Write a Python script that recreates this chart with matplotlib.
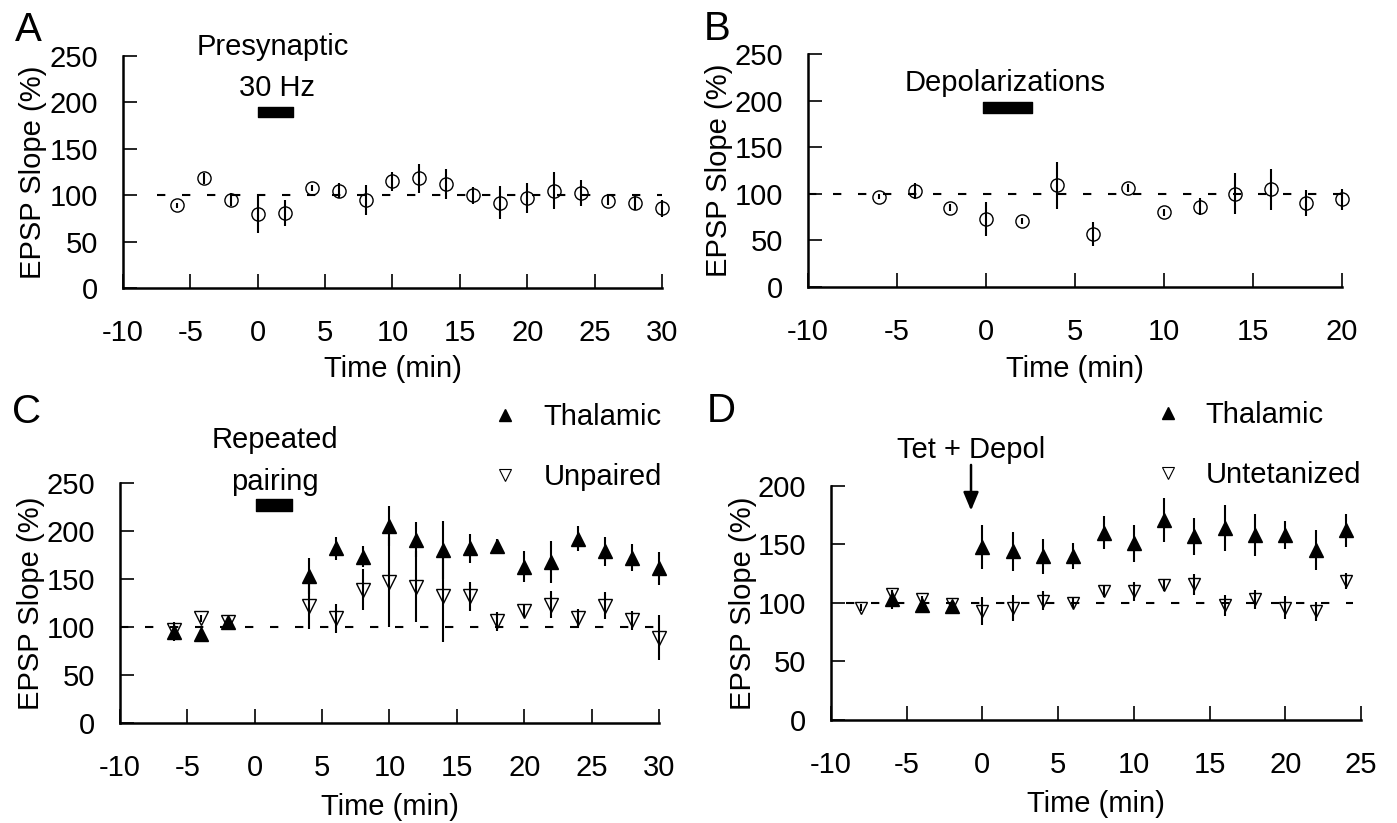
import matplotlib
matplotlib.use("Agg")
import matplotlib.pyplot as plt
from matplotlib.lines import Line2D

plt.rcParams["font.family"] = ["Liberation Sans", "DejaVu Sans"]
plt.rcParams["axes.unicode_minus"] = False

# ---- panel A: presynaptic 30 Hz ----
a_time = [-6, -4, -2, 0, 2, 4, 6, 8, 10, 12, 14, 16, 18, 20, 22, 24, 26, 28, 30]
a_mean = [89, 118, 95, 80, 81, 108, 105, 95, 115, 118, 112, 100, 92, 97, 105, 102, 94, 92, 86]
a_sem = [3, 6, 7, 21, 14, 3, 8, 16, 10, 16, 16, 9, 18, 16, 20, 14, 5, 8, 9]

# ---- panel B: depolarizations ----
b_time = [-6, -4, -2, 0, 2, 4, 6, 8, 10, 12, 14, 16, 18, 20]
b_mean = [97, 103, 85, 73, 71, 109, 57, 106, 80, 86, 100, 105, 90, 94]
b_sem = [3, 9, 4, 18, 3, 25, 13, 4, 4, 9, 22, 22, 14, 11]

# ---- panel C: repeated pairing ----
c_time = [-6, -4, -2, 4, 6, 8, 10, 12, 14, 16, 18, 20, 22, 24, 26, 28, 30]
c_thal = [95, 93, 105, 153, 182, 173, 205, 191, 180, 182, 184, 163, 168, 192, 179, 172, 161]
c_thal_sem = [10, 5, 5, 19, 12, 11, 21, 18, 30, 15, 8, 16, 22, 13, 15, 14, 17]
c_unp = [97, 109, 105, 122, 109, 139, 147, 142, 132, 132, 106, 117, 123, 109, 122, 107, 89]
c_unp_sem = [4, 4, 4, 24, 15, 21, 47, 37, 48, 15, 10, 7, 14, 10, 14, 10, 23]

# ---- panel D: tetanus + depolarization ----
d_time_thal = [-6, -4, -2, 0, 2, 4, 6, 8, 10, 12, 14, 16, 18, 20, 22, 24]
d_thal = [103, 98, 97, 148, 144, 140, 140, 160, 151, 171, 157, 164, 158, 158, 145, 162]
d_thal_sem = [8, 3, 5, 19, 17, 15, 11, 14, 16, 19, 16, 20, 18, 12, 17, 14]
d_time_unt = [-8, -6, -4, -2, 0, 2, 4, 6, 8, 10, 12, 14, 16, 18, 20, 22, 24]
d_unt = [96, 108, 103, 99, 93, 96, 102, 100, 110, 110, 115, 116, 98, 103, 96, 93, 119]
d_unt_sem = [3, 3, 3, 2, 12, 11, 8, 4, 5, 8, 5, 9, 9, 8, 10, 8, 7]

FS = 21


def style_axis(ax, xmax, ymax):
    ax.set_xlim(-10, xmax)
    ax.set_ylim(0, ymax)
    ax.set_xticks(range(-10, xmax + 1, 5))
    ax.set_yticks(range(0, ymax + 1, 50))
    for s in ("top", "right"):
        ax.spines[s].set_visible(False)
    for s in ("left", "bottom"):
        ax.spines[s].set_linewidth(1.8)
    ax.tick_params(direction="in", length=10, width=1.2, labelsize=FS)
    ax.tick_params(axis="x", pad=22)
    ax.tick_params(axis="y", pad=18)
    ax.set_xlabel("Time (min)", fontsize=FS)
    ax.set_ylabel("EPSP Slope (%)", fontsize=FS)
    ax.xaxis.set_label_coords(0.5, -0.29)
    ax.yaxis.set_label_coords(-0.14, 0.5)


def baseline(ax, x0, x1):
    ax.plot([x0, x1], [100, 100], color="k", lw=1.5, ls=(0, (4, 8)), zorder=1)


def points(ax, t, m, e, marker, filled, ms):
    cont = ax.errorbar(t, m, yerr=e, fmt=marker, ms=ms,
                       mfc="k" if filled else "none", mec="k",
                       mew=1.0, ecolor="k", elinewidth=1.5, capsize=0, zorder=3)
    for art in cont.get_children():
        art.set_clip_on(False)


def key(ax, labels, anchor):
    handles = [
        Line2D([], [], marker="^", color="k", ls="none", ms=8),
        Line2D([], [], marker="v", mfc="none", mec="k", mew=0.8, ls="none", ms=8),
    ]
    ax.legend(handles, labels, loc="lower right", bbox_to_anchor=anchor,
              frameon=False, fontsize=FS, handlelength=1.0, handletextpad=0.8,
              labelspacing=1.1, borderpad=0, borderaxespad=0)


fig = plt.figure(figsize=(13.97, 8.23), dpi=100)
axA = fig.add_axes([0.0880, 0.6501, 0.3859, 0.2819])
axB = fig.add_axes([0.5784, 0.6513, 0.3822, 0.2831])
axC = fig.add_axes([0.0859, 0.1215, 0.3858, 0.2916])
axD = fig.add_axes([0.5948, 0.1252, 0.3794, 0.2843])

# A
style_axis(axA, 30, 250)
baseline(axA, -7.5, 30)
points(axA, a_time, a_mean, a_sem, "o", False, 9.5)
axA.broken_barh([(0, 2.6)], (184, 11), color="k")
axA.text(1.1, 260, "Presynaptic", fontsize=FS, ha="center", va="center")
axA.text(1.4, 215, "30 Hz", fontsize=FS, ha="center", va="center")

# B
style_axis(axB, 20, 250)
baseline(axB, -10, 20)
points(axB, b_time, b_mean, b_sem, "o", False, 9.5)
axB.broken_barh([(-0.15, 2.75)], (187, 11.5), color="k")
axB.text(1.07, 219, "Depolarizations", fontsize=FS, ha="center", va="center")

# C
style_axis(axC, 30, 250)
baseline(axC, -10, 30)
points(axC, c_time, c_unp, c_unp_sem, "v", False, 9.5)
points(axC, c_time, c_thal, c_thal_sem, "^", True, 10)
axC.broken_barh([(0.1, 2.65)], (221, 12), color="k")
axC.text(1.5, 295, "Repeated", fontsize=FS, ha="center", va="center")
axC.text(1.5, 251, "pairing", fontsize=FS, ha="center", va="center")
key(axC, ["Thalamic", "Unpaired"], (1.005, 0.967))

# D
style_axis(axD, 25, 200)
axD.xaxis.set_label_coords(0.5, -0.30)
baseline(axD, -9, 24.5)
points(axD, d_time_unt, d_unt, d_unt_sem, "v", False, 8.5)
points(axD, d_time_thal, d_thal, d_thal_sem, "^", True, 10.5)
axD.annotate("", xy=(-0.75, 179), xytext=(-0.75, 218),
             arrowprops=dict(arrowstyle="-|>,head_length=0.55,head_width=0.23",
                             color="k", lw=1.8, mutation_scale=20,
                             shrinkA=0, shrinkB=0))
axD.text(-0.75, 231, "Tet + Depol", fontsize=FS, ha="center", va="center")
key(axD, ["Thalamic", "Untetanized"], (1.0, 0.987))

# panel letters
for lab, x, y in (("A", 15, 41), ("B", 704, 40), ("C", 12, 423), ("D", 707, 422)):
    fig.text(x / 1397, 1 - y / 823, lab, fontsize=29, ha="left", va="baseline")

fig.savefig("out.png", dpi=100)
plt.close(fig)
